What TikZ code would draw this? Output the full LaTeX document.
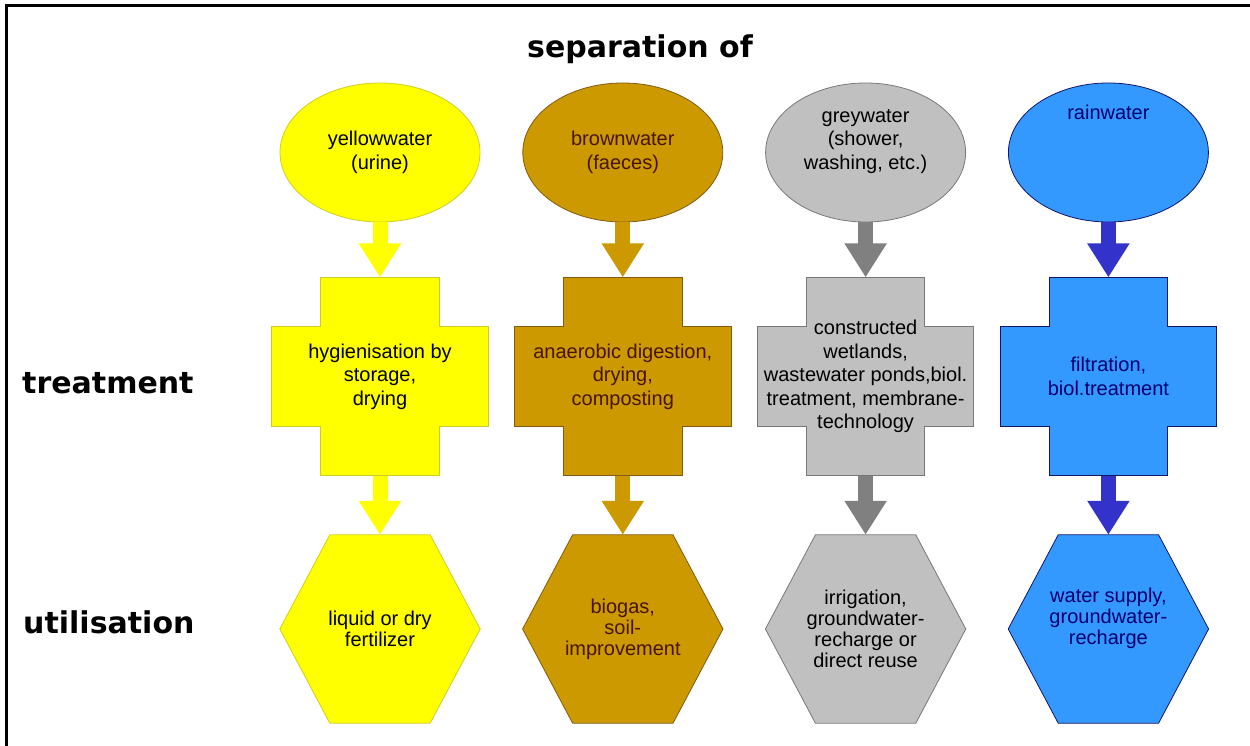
\documentclass[tikz,border=0pt]{standalone}
\usepackage{fontspec}
\newfontfamily\boxfont{Liberation Sans}
\newfontfamily\headfont{DejaVu Sans}
\usepackage{tikz}
\usetikzlibrary{
  shapes.geometric,
  arrows.meta,
  positioning,
  backgrounds
}
\definecolor{yelfill}{RGB}{255,255,0}
\definecolor{yelline}{RGB}{205,205,40}
\definecolor{brnfill}{RGB}{204,153,0}
\definecolor{brnline}{RGB}{130,90,20}
\definecolor{brntext}{RGB}{70,20,0}
\definecolor{gryfill}{RGB}{192,192,192}
\definecolor{gryline}{RGB}{120,120,120}
\definecolor{gryarrow}{RGB}{128,128,128}
\definecolor{blufill}{RGB}{51,153,255}
\definecolor{bluline}{RGB}{20,20,110}
\definecolor{bluarrow}{RGB}{51,51,204}
\definecolor{blutext}{RGB}{0,0,110}
\tikzset{
  basebox/.style={inner sep=0pt,align=center,font=\boxfont\fontsize{20}{23.5}\selectfont},
  srcnode/.style={basebox,ellipse,minimum width=200pt,minimum height=139pt},
  trtnode/.style={basebox,rectangle,minimum width=216pt,minimum height=198pt},
  usenode/.style={basebox,rectangle,minimum width=200pt,minimum height=188pt,font=\boxfont\fontsize{20}{21}\selectfont},
  headlabel/.style={font=\headfont\bfseries\fontsize{30}{36}\selectfont},
  rowlabel/.style={headlabel,anchor=west,inner sep=0pt},
  yelshape/.style={fill=yelfill,draw=yelline,line width=0.8pt},
  brnshape/.style={fill=brnfill,draw=brnline,line width=0.8pt},
  gryshape/.style={fill=gryfill,draw=gryline,line width=0.8pt},
  blushape/.style={fill=blufill,draw=bluline,line width=0.8pt},
  flowarr/.style={-{Triangle[width=40pt,length=34pt]},line width=15pt},
  yelarr/.style={flowarr,color=yelfill},
  brnarr/.style={flowarr,color=brnfill},
  gryarr/.style={flowarr,color=gryarrow},
  bluarr/.style={flowarr,color=bluarrow}
}
\newcommand{\crossshape}[2]{%
  \path[#2] ([xshift=49pt]#1.north west) -- ([xshift=-49pt]#1.north east)
    -- ([xshift=-49pt,yshift=-49pt]#1.north east) -- ([yshift=-49pt]#1.north east)
    -- ([yshift=49pt]#1.south east) -- ([xshift=-49pt,yshift=49pt]#1.south east)
    -- ([xshift=-49pt]#1.south east) -- ([xshift=49pt]#1.south west)
    -- ([xshift=49pt,yshift=49pt]#1.south west) -- ([yshift=49pt]#1.south west)
    -- ([yshift=-49pt]#1.north west) -- ([xshift=49pt,yshift=-49pt]#1.north west) -- cycle;}
\newcommand{\hexshape}[2]{%
  \path[#2] (#1.west) -- ([xshift=50pt]#1.north west) -- ([xshift=-50pt]#1.north east)
    -- (#1.east) -- ([xshift=-50pt]#1.south east) -- ([xshift=50pt]#1.south west) -- cycle;}

\begin{document}
\begin{tikzpicture}[x=1pt,y=1pt]
  \useasboundingbox (0,0) rectangle (1250,746);
  \draw[line width=3pt] (6,0) -- (6,740) -- (1250,740);

  \node[headlabel] (sepl) at (640,697) {separation of};
  \node[rowlabel] (trtl) at (22,363) {treatment};
  \node[rowlabel] (usel) at (23,124) {utilisation};

  \node[srcnode,yelshape] (yel) at (380,593.5) {yellowwater\\(urine)};
  \node[srcnode,brnshape,text=brntext,right=42pt of yel] (brn) {brownwater\\(faeces)};
  \node[srcnode,gryshape,text depth=26pt,right=42pt of brn] (gry) {greywater\\(shower,\\washing, etc.)};
  \node[srcnode,blushape,text=blutext,text depth=80pt,right=42pt of gry] (blu) {rainwater};

  \node[trtnode,below=55pt of yel] (yelT) {hygienisation by\\storage,\\drying};
  \node[trtnode,text=brntext,below=55pt of brn] (brnT) {anaerobic digestion,\\drying,\\composting};
  \node[trtnode,below=55pt of gry] (gryT) {constructed\\wetlands,\\wastewater ponds,biol.\\treatment, membrane-\\technology};
  \node[trtnode,text=blutext,below=55pt of blu] (bluT) {filtration,\\biol.treatment};

  \node[usenode,below=59pt of yelT] (yelU) {liquid or dry\\fertilizer};
  \node[usenode,text=brntext,below=59pt of brnT] (brnU) {biogas,\\soil-\\improvement};
  \node[usenode,below=59pt of gryT] (gryU) {irrigation,\\groundwater-\\recharge or\\direct reuse};
  \node[usenode,text=blutext,text depth=26pt,below=59pt of bluT] (bluU) {water supply,\\groundwater-\\recharge};

  \begin{pgfonlayer}{background}
    \crossshape{yelT}{yelshape}
    \crossshape{brnT}{brnshape}
    \crossshape{gryT}{gryshape}
    \crossshape{bluT}{blushape}
    \hexshape{yelU}{yelshape}
    \hexshape{brnU}{brnshape}
    \hexshape{gryU}{gryshape}
    \hexshape{bluU}{blushape}
  \end{pgfonlayer}

  \draw[yelarr] (yel.south) -- (yelT.north);
  \draw[brnarr] (brn.south) -- (brnT.north);
  \draw[gryarr] (gry.south) -- (gryT.north);
  \draw[bluarr] (blu.south) -- (bluT.north);
  \draw[yelarr] (yelT.south) -- (yelU.north);
  \draw[brnarr] (brnT.south) -- (brnU.north);
  \draw[gryarr] (gryT.south) -- (gryU.north);
  \draw[bluarr] (bluT.south) -- (bluU.north);
\end{tikzpicture}
\end{document}
